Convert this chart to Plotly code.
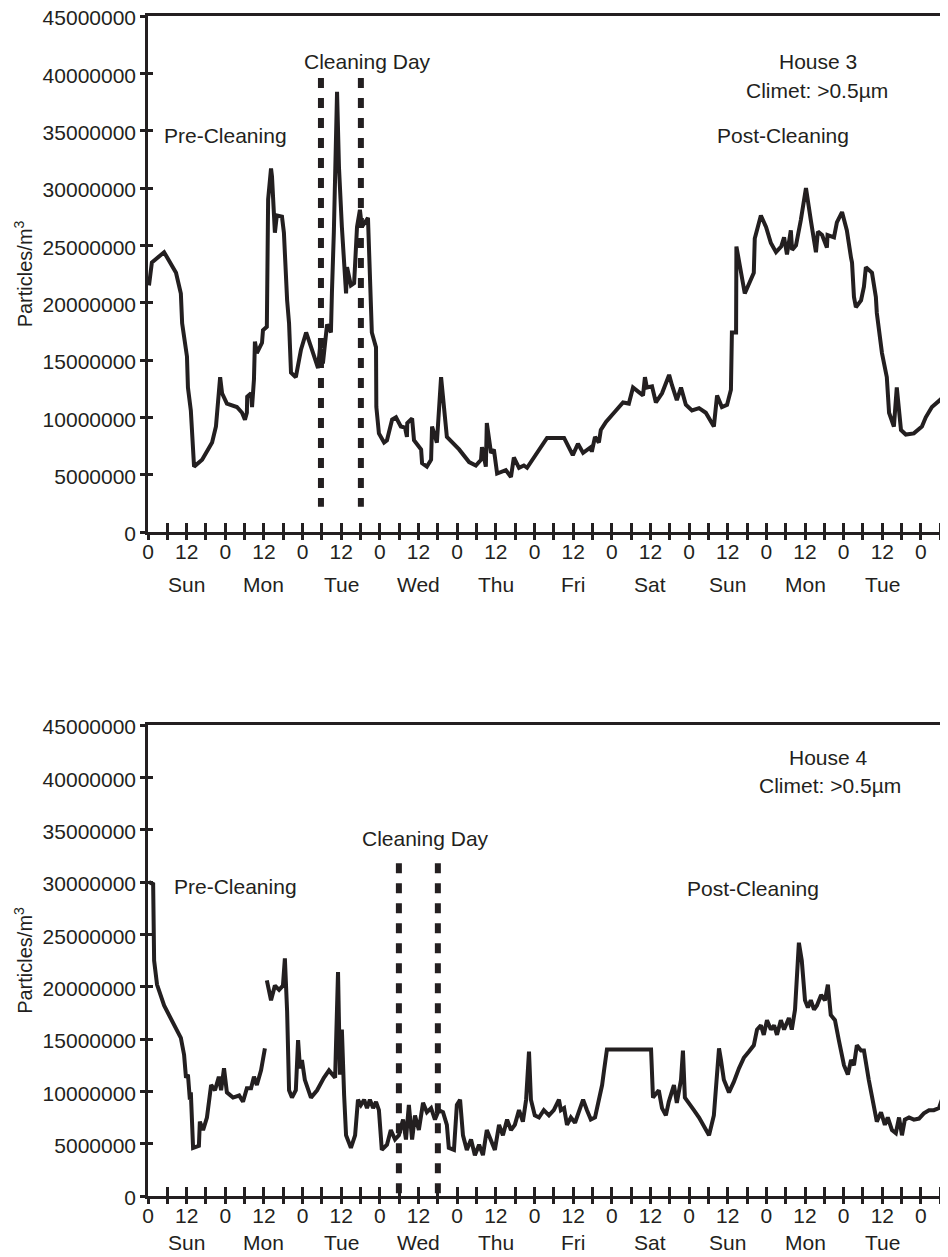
import plotly.graph_objects as go

# ---------------- data ----------------
# House 3 (hours since Sunday 0:00, particles/m3 in millions)
h3_hours = [0.3, 1.2, 5.0, 8.7, 10.2, 10.6, 12.1, 12.4, 13.3, 13.7, 14.3, 16.8, 19.9, 21.1, 21.7, 22.4, 23.0,
            24.5, 27.6, 29.2, 30.1, 30.7, 30.8, 32.0, 32.3, 32.9, 33.2, 33.8, 35.4, 35.7, 36.9, 37.3, 38.2,
            38.5, 39.4, 40.0, 41.6, 42.2, 43.2, 43.8, 44.4, 45.9, 47.5, 49.1, 50.9, 52.8, 53.4, 54.3, 55.6,
            56.8, 57.1, 57.7, 58.7, 59.3, 60.2, 61.5, 61.8, 63.0, 64.0, 64.9, 65.8, 66.4, 68.3, 69.2, 69.5,
            70.8, 70.9, 71.7, 73.3, 74.2, 75.8, 77.0, 78.5, 79.8, 80.4, 80.5, 82.0, 82.6, 84.8, 85.1, 86.6,
            87.9, 88.2, 89.7, 91.0, 92.8, 96.6, 99.7, 101.8, 103.4, 103.7, 104.9, 105.2, 106.5, 107.4, 108.4,
            111.1, 112.7, 113.6, 115.2, 116.7, 117.7, 123.9, 129.2, 131.9, 133.5, 135.1, 137.5, 137.8, 138.8,
            140.0, 140.6, 142.2, 144.7, 147.5, 149.3, 150.6, 152.4, 153.7, 154.3, 154.9, 156.5, 157.7, 159.6,
            161.8, 162.7, 164.2, 165.5, 167.0, 168.9, 171.1, 173.2, 175.7, 176.7, 178.2, 179.8, 181.0, 181.3,
            182.6, 182.7, 185.3, 188.1, 188.4, 190.3, 191.9, 193.4, 195.0, 196.6, 197.5, 198.4, 199.6, 200.0,
            201.2, 202.7, 204.3, 205.8, 207.4, 208.0, 209.3, 210.8, 211.0, 213.0, 213.9, 215.5, 217.0, 218.3,
            218.6, 219.2, 219.8, 221.4, 222.3, 222.9, 223.2, 224.8, 226.0, 226.3, 227.9, 229.4, 230.1, 231.6,
            232.5, 233.8, 235.3, 237.8, 240.3, 241.5, 243.4, 245.6, 247.1, 248.1]
h3_values = [21.5, 23.5, 24.4, 22.6, 20.8, 18.2, 15.3, 12.6, 10.6, 8.6, 5.7, 6.3, 7.8, 9.2, 10.9, 13.5, 12.1,
             11.2, 10.9, 10.4, 9.8, 10.4, 11.8, 12.1, 10.9, 13.3, 16.6, 15.6, 16.5, 17.6, 17.9, 29.0, 31.7,
             31.0, 26.1, 27.6, 27.5, 26.1, 20.2, 18.2, 13.9, 13.5, 15.9, 17.4, 15.9, 14.3, 16.1, 14.7, 18.1,
             17.4, 20.8, 26.1, 38.4, 31.8, 26.6, 20.8, 23.1, 21.5, 21.7, 26.6, 28.1, 26.6, 27.4, 20.2, 17.4,
             16.1, 10.9, 8.6, 7.8, 8.0, 9.8, 10.0, 9.2, 9.1, 8.3, 9.5, 9.9, 8.0, 7.2, 6.0, 5.7,
             6.3, 9.2, 7.8, 13.5, 8.3, 7.2, 6.1, 5.8, 6.3, 7.4, 5.7, 9.5, 6.9, 7.2, 5.1,
             5.4, 4.8, 6.5, 5.6, 5.8, 5.6, 8.2, 8.2, 6.7, 7.7, 6.9, 7.4, 7.0, 8.3,
             7.8, 8.9, 9.6, 10.4, 11.3, 11.2, 12.6, 12.2, 11.9, 13.5, 12.6, 12.7, 11.3, 12.1,
             13.7, 12.8, 11.5, 12.6, 11.1, 10.6, 10.8, 10.4, 9.2, 11.9, 10.9, 11.1, 12.4, 17.4,
             17.4, 24.9, 20.8, 22.6, 25.6, 27.6, 26.6, 25.2, 24.4, 24.9, 25.7, 24.2, 26.3, 24.6,
             25.0, 27.2, 30.0, 27.2, 24.4, 26.2, 25.9, 24.8, 25.9, 25.7, 27.0, 27.9, 26.3, 23.9,
             23.5, 20.5, 19.6, 20.2, 21.4, 23.1, 23.0, 22.6, 20.5, 19.1, 15.6, 13.5, 10.4, 9.2,
             12.6, 8.9, 8.5, 8.6, 9.2, 10.0, 10.9, 11.5, 11.8, 12.4]

# House 4 (None marks a gap in the record)
h4_hours = [0.3, 1.6, 1.9, 2.8, 5.0, 7.1, 8.7, 10.2, 11.2, 11.8, 12.4, 13.0, 13.3, 14.0, 15.8, 16.1, 17.1, 18.3,
            19.6, 20.8, 22.0, 22.7, 23.6, 24.5, 26.4, 28.3, 29.5, 30.7, 32.0, 32.9, 33.8, 35.1, 36.3, 36.6,
            36.9, 38.2, 39.4, 40.7, 41.9, 42.5, 43.2, 43.8, 44.7, 45.9, 46.6, 47.2, 47.8, 48.7, 50.6, 52.5,
            54.6, 56.2, 58.1, 59.0, 59.6, 60.2, 60.9, 61.5, 63.0, 64.3, 65.2, 66.1, 67.1, 68.0, 68.9, 69.9,
            70.8, 71.7, 72.6, 74.2, 75.4, 76.7, 77.9, 79.2, 80.1, 81.0, 82.0, 82.9, 84.1, 85.4, 86.6, 87.9,
            89.1, 90.3, 91.6, 92.8, 93.4, 95.0, 95.9, 96.9, 97.8, 99.0, 100.3, 101.5, 102.8, 104.0, 105.2,
            106.5, 107.7, 109.0, 110.2, 111.5, 112.7, 113.9, 115.2, 116.4, 117.4, 118.3, 118.9, 120.1, 121.4,
            122.9, 124.5, 126.0, 127.6, 128.2, 129.2, 130.1, 131.3, 132.6, 133.8, 135.1, 136.3, 137.5, 138.8,
            140.0, 141.0, 141.6, 142.5, 156.2, 156.8, 158.6, 159.6, 160.8, 161.7, 163.3, 164.2, 165.5, 166.1,
            166.7, 168.0, 169.5, 171.1, 172.6, 174.2, 175.7, 176.7, 177.3, 177.9, 178.8, 180.4, 181.9, 183.5,
            185.0, 186.6, 188.1, 189.1, 190.3, 191.2, 192.2, 193.4, 194.4, 195.3, 196.5, 197.5, 199.0, 199.9,
            200.9, 202.1, 203.0, 204.0, 204.9, 205.8, 206.8, 207.7, 209.0, 210.2, 211.1, 212.0, 213.3, 214.5,
            216.1, 217.3, 218.3, 219.2, 220.1, 221.4, 222.3, 223.8, 225.4, 226.3, 227.6, 228.8, 229.7, 231.0,
            232.2, 233.2, 234.1, 235.0, 236.3, 237.8, 239.4, 240.9, 242.5, 244.0, 245.6, 246.5, 247.1, 248.1]
h4_values = [30.0, 29.8, 22.5, 20.2, 18.2, 17.0, 15.9, 15.1, 13.5, 11.3, 11.6, 9.2, 9.9, 4.6, 4.8, 7.1, 6.3, 7.5,
             10.6, 10.1, 11.4, 10.1, 12.2, 9.9, 9.4, 9.6, 9.0, 10.3, 10.3, 11.4, 10.6, 12.0, 14.1, None,
             20.6, 18.7, 20.1, 19.7, 20.1, 22.7, 17.6, 10.1, 9.4, 10.1, 14.9, 12.2, 13.0, 11.1, 9.4, 10.1,
             11.3, 12.0, 11.3, 21.4, 11.6, 15.9, 9.6, 5.8, 4.6, 5.8, 9.2, 8.7, 9.2, 8.4, 9.2, 8.4,
             9.0, 8.2, 4.4, 4.9, 6.3, 5.4, 5.8, 7.3, 5.4, 8.7, 5.4, 7.7, 6.3, 8.9, 8.0, 8.4,
             7.3, 8.2, 8.0, 6.8, 4.6, 4.4, 8.7, 9.2, 5.8, 4.4, 5.4, 3.9, 4.9, 3.9, 6.3,
             5.4, 4.4, 6.8, 5.8, 7.3, 6.3, 6.8, 8.2, 7.1, 9.2, 13.8, 9.2, 7.7, 7.5,
             8.2, 7.7, 8.2, 9.2, 8.2, 8.4, 6.8, 7.5, 7.0, 8.2, 9.2, 8.2, 7.3, 7.5,
             9.2, 10.6, 12.0, 14.0, 14.0, 9.4, 10.1, 8.4, 7.7, 9.0, 10.6, 8.9, 11.1, 13.9,
             9.4, 8.9, 8.2, 7.5, 6.6, 5.8, 7.7, 11.1, 14.1, 13.0, 11.1, 9.9, 10.9, 12.2,
             13.2, 13.8, 14.4, 15.9, 16.3, 15.4, 16.8, 15.9, 16.3, 15.4, 16.8, 15.9, 17.0, 15.9,
             17.8, 24.2, 22.5, 18.7, 18.0, 18.7, 17.8, 18.2, 19.2, 18.7, 20.2, 17.3, 16.8, 14.9,
             12.5, 11.6, 13.0, 12.5, 14.4, 13.9, 13.9, 11.1, 8.2, 7.1, 8.0, 6.8, 7.5, 6.3,
             6.0, 7.5, 5.8, 7.3, 7.5, 7.3, 7.4, 7.9, 8.2, 8.2, 8.4, 9.2, 11.1, 11.1]

# cleaning-day markers: [start hour, end hour], vertical extent in millions
h3_clean_hours = [53.7, 66.1]
h3_clean_span = [39.6, 2.2]
h4_clean_hours = [77.9, 90.0]
h4_clean_span = [31.8, 0.0]

hour_ticks = list(range(0, 247, 6))
hour_labels = ["0" if h % 24 == 0 else ("12" if h % 24 == 12 else "") for h in hour_ticks]
day_names = ["Sun", "Mon", "Tue", "Wed", "Thu", "Fri", "Sat", "Sun", "Mon", "Tue"]
day_hours = [12 + 24 * i for i in range(len(day_names))]
y_ticks = [5000000 * i for i in range(10)]
y_labels = [str(v) for v in y_ticks]

# ---------------- style ----------------
INK = "#231f20"
FONT = "Liberation Sans, Arial, sans-serif"
OFF = 8                     # page body margin of the browser
W, H = 948 - OFF, 1257 - OFF
L = 148 - OFF
XR = [0, 248.4]
FS = 21


def py(p):  # reference pixel row -> paper y
    return 1 - (p - OFF) / H


def px(p):  # reference pixel column -> paper x
    return (p - OFF - L) / (W - L)


top_dom = [py(532), py(16)]
bot_dom = [py(1196), py(725)]

fig = go.Figure()


def M(vals):
    return [None if v is None else v * 1e6 for v in vals]


fig.add_trace(go.Scatter(x=h3_hours, y=M(h3_values), mode="lines", xaxis="x", yaxis="y",
                         line=dict(color=INK, width=4), showlegend=False, hoverinfo="skip"))
fig.add_trace(go.Scatter(x=h4_hours, y=M(h4_values), mode="lines", xaxis="x2", yaxis="y2",
                         line=dict(color=INK, width=4), showlegend=False, hoverinfo="skip",
                         connectgaps=False))

for hx in h3_clean_hours:
    fig.add_trace(go.Scatter(x=[hx, hx], y=M(h3_clean_span), mode="lines", xaxis="x", yaxis="y",
                             line=dict(color=INK, width=6, dash="10px,10px"), showlegend=False,
                             hoverinfo="skip"))
for hx in h4_clean_hours:
    fig.add_trace(go.Scatter(x=[hx, hx], y=M(h4_clean_span), mode="lines", xaxis="x2", yaxis="y2",
                             line=dict(color=INK, width=6, dash="10px,10px"), showlegend=False,
                             hoverinfo="skip"))

# empty traces for the overlaid "inside" tick axes
for xa, ya in [("x3", "y"), ("x", "y3"), ("x4", "y2"), ("x2", "y4")]:
    fig.add_trace(go.Scatter(x=[None], y=[None], xaxis=xa, yaxis=ya, showlegend=False,
                             hoverinfo="skip", mode="lines"))

tickfont = dict(family=FONT, size=FS, color=INK)


def xaxis_main(anchor):
    return dict(domain=[0, 1], anchor=anchor, range=XR, tickmode="array", tickvals=hour_ticks,
                ticktext=hour_labels, ticks="outside", ticklen=5, tickwidth=2.5, tickcolor=INK,
                showline=True, linewidth=2.5, linecolor=INK, mirror=True, showgrid=False,
                zeroline=False, tickfont=tickfont, automargin=False, fixedrange=True,
                ticklabelstandoff=-6, ticklabeloverflow="allow")


def xaxis_in(over, anchor):
    return dict(overlaying=over, anchor=anchor, range=XR, tickmode="array", tickvals=hour_ticks,
                ticks="inside", ticklen=9, tickwidth=2.5, tickcolor=INK, showticklabels=False,
                showline=False, showgrid=False, zeroline=False, automargin=False, side="bottom")


def yaxis_main(anchor, dom):
    return dict(domain=dom, anchor=anchor, range=[0, 45e6], tickmode="array", tickvals=y_ticks,
                ticktext=y_labels, ticks="outside", ticklen=5, tickwidth=2.5, tickcolor=INK,
                showline=True, linewidth=2.5, linecolor=INK, showgrid=False, zeroline=False,
                tickfont=tickfont, automargin=False, ticklabeloverflow="allow", ticklabelshift=2,
                title=dict(text="Particles/m<sup>3</sup>", font=dict(family=FONT, size=20, color=INK),
                           standoff=5))


def yaxis_in(over, anchor):
    return dict(overlaying=over, anchor=anchor, range=[0, 45e6], tickmode="array", tickvals=y_ticks,
                ticks="inside", ticklen=5, tickwidth=2.5, tickcolor=INK, showticklabels=False,
                showline=False, showgrid=False, zeroline=False, automargin=False, side="left")


annotations = []


def text(t, x, y):
    annotations.append(dict(text=t, x=px(x), y=py(y), xref="paper", yref="paper", showarrow=False,
                            xanchor="center", yanchor="middle",
                            font=dict(family=FONT, size=FS, color=INK)))


# day labels under the hour labels
for name, hh in zip(day_names, day_hours):
    annotations.append(dict(text=name, x=hh, y=py(584), xref="x", yref="paper", showarrow=False,
                            xanchor="center", yanchor="middle",
                            font=dict(family=FONT, size=FS, color=INK)))
    annotations.append(dict(text=name, x=hh, y=py(1242), xref="x2", yref="paper", showarrow=False,
                            xanchor="center", yanchor="middle",
                            font=dict(family=FONT, size=FS, color=INK)))

text("Cleaning Day", 367, 62)
text("Pre-Cleaning", 225, 135)
text("House 3", 818, 61)
text("Climet: >0.5µm", 817, 91)
text("Post-Cleaning", 783, 135)

text("Cleaning Day", 425, 838)
text("Pre-Cleaning", 235, 886)
text("House 4", 828, 757)
text("Climet: >0.5µm", 830, 785)
text("Post-Cleaning", 753, 888)

fig.update_layout(
    width=W, height=H, autosize=False,
    margin=dict(l=L, r=0, t=0, b=0, pad=0),
    paper_bgcolor="white", plot_bgcolor="white",
    template="none",
    font=dict(family=FONT, size=FS, color=INK),
    xaxis=xaxis_main("y"),
    yaxis=yaxis_main("x", top_dom),
    xaxis2=xaxis_main("y2"),
    yaxis2=yaxis_main("x2", bot_dom),
    xaxis3=xaxis_in("x", "y"),
    yaxis3=yaxis_in("y", "x"),
    xaxis4=xaxis_in("x2", "y2"),
    yaxis4=yaxis_in("y2", "x2"),
    annotations=annotations,
    showlegend=False,
)

fig.write_html("out.html")
